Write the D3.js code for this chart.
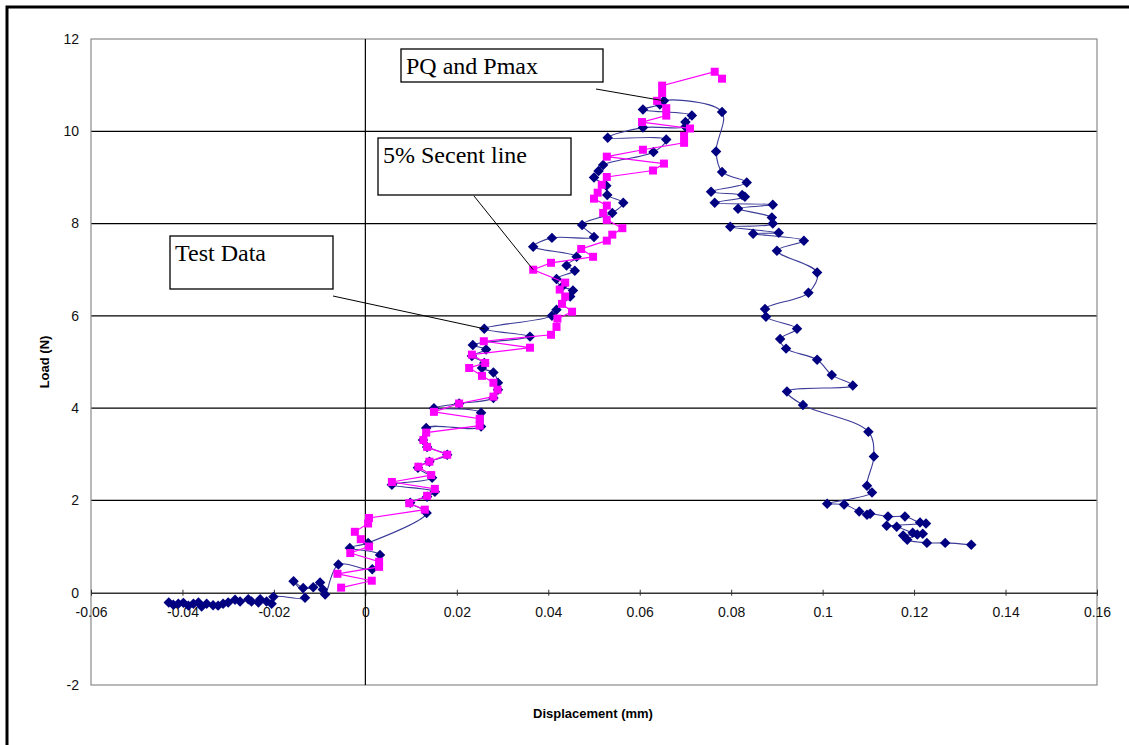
<!DOCTYPE html>
<html>
<head>
<meta charset="utf-8">
<script src="https://cdn.jsdelivr.net/npm/d3@7"></script>
<style>
  body { margin: 0; background: #fff; }
  svg { display: block; }
</style>
</head>
<body>
<svg id="chart" width="1129" height="745"></svg>
<script>
"use strict";

// Test Data (blue diamonds)
const testDisp = [
  -0.0430, -0.0420, -0.0409, -0.0398, -0.0387, -0.0376, -0.0365, -0.0358, -0.0347, -0.0333,
  -0.0322, -0.0311, -0.0300, -0.0285, -0.0274, -0.0256, -0.0249, -0.0234, -0.0230, -0.0216,
  -0.0205, -0.0201, -0.0132, -0.0157, -0.0136, -0.0114, -0.0099, -0.0093, -0.0088, -0.0059,
  0.0015, 0.0032, -0.0034, 0.0006, 0.0134, 0.0098, 0.0135, 0.0152, 0.0058, 0.0146,
  0.0115, 0.0140, 0.0179, 0.0135, 0.0126, 0.0133, 0.0253, 0.0253, 0.0150, 0.0205,
  0.0280, 0.0290, 0.0290, 0.0280, 0.0255, 0.0260, 0.0233, 0.0264, 0.0235, 0.0360,
  0.0260, 0.0408, 0.0418, 0.0448, 0.0454, 0.0430, 0.0418, 0.0458, 0.0440, 0.0462,
  0.0367, 0.0408, 0.0500, 0.0474, 0.0540, 0.0564, 0.0529, 0.0527, 0.0500, 0.0510,
  0.0520, 0.0630, 0.0658, 0.0530, 0.0607, 0.0700, 0.0700, 0.0714, 0.0607, 0.0644,
  0.0653, 0.0780, 0.0767, 0.0780, 0.0834, 0.0756, 0.0824, 0.0830, 0.0764, 0.0891,
  0.0815, 0.0889, 0.0891, 0.0798, 0.0904, 0.0848, 0.0959, 0.0900, 0.0988, 0.0969,
  0.0874, 0.0876, 0.0944, 0.0907, 0.0920, 0.0988, 0.1020, 0.1066, 0.0922, 0.0957,
  0.1100, 0.1112, 0.1097, 0.1108, 0.1010, 0.1047, 0.1080, 0.1097, 0.1104, 0.1143,
  0.1180, 0.1213, 0.1226, 0.1140, 0.1162, 0.1197, 0.1219, 0.1176, 0.1207, 0.1185,
  0.1228, 0.1268, 0.1325
];
const testLoad = [
  -0.21, -0.26, -0.24, -0.22, -0.28, -0.24, -0.21, -0.30, -0.24, -0.27,
  -0.28, -0.24, -0.21, -0.15, -0.19, -0.14, -0.19, -0.21, -0.14, -0.19,
  -0.24, -0.09, -0.11, 0.25, 0.10, 0.12, 0.22, 0.07, -0.04, 0.61,
  0.51, 0.82, 0.97, 1.08, 1.73, 1.95, 2.08, 2.19, 2.34, 2.49,
  2.71, 2.84, 2.99, 3.16, 3.31, 3.57, 3.60, 3.90, 4.00, 4.10,
  4.22, 4.40, 4.55, 4.77, 4.87, 4.98, 5.13, 5.27, 5.37, 5.55,
  5.72, 6.00, 6.13, 6.42, 6.55, 6.63, 6.80, 6.98, 7.09, 7.28,
  7.50, 7.69, 7.71, 7.97, 8.23, 8.45, 8.62, 8.82, 9.00, 9.14,
  9.27, 9.55, 9.82, 9.86, 10.08, 10.10, 10.20, 10.34, 10.47, 10.58,
  10.66, 10.42, 9.56, 9.12, 8.89, 8.69, 8.62, 8.58, 8.45, 8.41,
  8.32, 8.13, 8.00, 7.93, 7.80, 7.78, 7.63, 7.41, 6.94, 6.50,
  6.15, 5.98, 5.72, 5.50, 5.29, 5.05, 4.72, 4.49, 4.36, 4.07,
  3.49, 2.95, 2.32, 2.17, 1.93, 1.91, 1.76, 1.69, 1.71, 1.65,
  1.65, 1.52, 1.50, 1.45, 1.43, 1.30, 1.28, 1.24, 1.26, 1.15,
  1.08, 1.08, 1.04
];

// 5% Secent line (magenta squares)
const secantDisp = [
  -0.0053, 0.0014, -0.0061, 0.0030, 0.0030, -0.0033, 0.0008, -0.0010, -0.0023, 0.0006,
  0.0008, 0.0130, 0.0096, 0.0135, 0.0152, 0.0058, 0.0144, 0.0116, 0.0140, 0.0179,
  0.0135, 0.0127, 0.0133, 0.0250, 0.0250, 0.0150, 0.0205, 0.0280, 0.0289, 0.0280,
  0.0255, 0.0227, 0.0262, 0.0233, 0.0360, 0.0259, 0.0406, 0.0418, 0.0420, 0.0452,
  0.0430, 0.0437, 0.0425, 0.0437, 0.0367, 0.0406, 0.0498, 0.0472, 0.0528, 0.0540,
  0.0562, 0.0528, 0.0520, 0.0528, 0.0500, 0.0508, 0.0517, 0.0528, 0.0629, 0.0653,
  0.0528, 0.0607, 0.0697, 0.0697, 0.0710, 0.0605, 0.0658, 0.0658, 0.0638, 0.0649,
  0.0649, 0.0764, 0.0780
];
const secantLoad = [
  0.11, 0.26, 0.41, 0.56, 0.67, 0.86, 1.00, 1.16, 1.32, 1.50,
  1.62, 1.80, 1.94, 2.10, 2.25, 2.40, 2.55, 2.73, 2.84, 2.99,
  3.16, 3.31, 3.47, 3.62, 3.77, 3.92, 4.10, 4.25, 4.40, 4.55,
  4.70, 4.87, 4.98, 5.16, 5.31, 5.45, 5.59, 5.76, 5.94, 6.09,
  6.26, 6.42, 6.57, 6.72, 7.00, 7.15, 7.28, 7.45, 7.63, 7.76,
  7.90, 8.08, 8.23, 8.39, 8.54, 8.67, 8.84, 9.01, 9.15, 9.30,
  9.45, 9.60, 9.75, 9.90, 10.06, 10.20, 10.34, 10.50, 10.66, 10.83,
  10.99, 11.29, 11.14
];

const xTicks = [-0.06, -0.04, -0.02, 0, 0.02, 0.04, 0.06, 0.08, 0.1, 0.12, 0.14, 0.16];
const yTicks = [-2, 0, 2, 4, 6, 8, 10, 12];
const gridLoads = [2, 4, 6, 8, 10];

const calloutLabels = ["PQ and Pmax", "5% Secent line", "Test Data"];

const svg = d3.select("#chart");

// outer frame
svg.append("rect")
   .attr("x", 7).attr("y", 7)
   .attr("width", 1140).attr("height", 760)
   .attr("fill", "#fff")
   .attr("stroke", "#000")
   .attr("stroke-width", 3);

const plotLeft = 91, plotRight = 1097, plotTop = 39, plotBottom = 685;

const x = d3.scaleLinear().domain([-0.06, 0.16]).range([plotLeft, plotRight]);
const y = d3.scaleLinear().domain([-2, 12]).range([plotBottom, plotTop]);

// horizontal gridlines
svg.append("g")
   .selectAll("line")
   .data(gridLoads)
   .enter()
   .append("line")
   .attr("x1", plotLeft).attr("x2", plotRight)
   .attr("y1", d => y(d)).attr("y2", d => y(d))
   .attr("stroke", "#000")
   .attr("stroke-width", 1.2);

// plot border
svg.append("rect")
   .attr("x", plotLeft).attr("y", plotTop)
   .attr("width", plotRight - plotLeft).attr("height", plotBottom - plotTop)
   .attr("fill", "none")
   .attr("stroke", "#8a8a8a")
   .attr("stroke-width", 1.2);

// x axis sits on load = 0
const xAxis = d3.axisBottom(x)
                .tickValues(xTicks)
                .tickSize(4)
                .tickSizeOuter(0)
                .tickFormat(d => String(+d.toFixed(2)));
const gx = svg.append("g")
              .attr("transform", "translate(0," + y(0) + ")")
              .call(xAxis);
gx.select(".domain").attr("stroke", "#333").attr("stroke-width", 1.5);
gx.selectAll(".tick line").attr("stroke", "#333").attr("y1", -3).attr("y2", 3);
gx.selectAll(".tick text")
  .attr("y", 14)
  .attr("dy", "0.71em")
  .attr("fill", "#111")
  .style("font-family", "Arial, 'Liberation Sans', sans-serif")
  .style("font-size", "14px");

// y axis sits on displacement = 0
svg.append("line")
   .attr("x1", x(0)).attr("x2", x(0))
   .attr("y1", plotTop).attr("y2", plotBottom)
   .attr("stroke", "#000")
   .attr("stroke-width", 1.2);

// y tick labels at the left of the plot
svg.append("g")
   .selectAll("text")
   .data(yTicks)
   .enter()
   .append("text")
   .attr("x", 79)
   .attr("y", d => y(d))
   .attr("dy", "0.35em")
   .attr("text-anchor", "end")
   .attr("fill", "#111")
   .style("font-family", "Arial, 'Liberation Sans', sans-serif")
   .style("font-size", "14px")
   .text(d => d);

// axis titles
svg.append("text")
   .attr("x", 593).attr("y", 718)
   .attr("text-anchor", "middle")
   .style("font-family", "Arial, 'Liberation Sans', sans-serif")
   .style("font-size", "13px")
   .style("font-weight", "bold")
   .text("Displacement (mm)");

svg.append("text")
   .attr("transform", "translate(49," + y(5) + ") rotate(-90)")
   .attr("text-anchor", "middle")
   .style("font-family", "Arial, 'Liberation Sans', sans-serif")
   .style("font-size", "13px")
   .style("font-weight", "bold")
   .text("Load (N)");

// series
const testData = testDisp.map((d, i) => ({ x: d, y: testLoad[i] }));
const secantData = secantDisp.map((d, i) => ({ x: d, y: secantLoad[i] }));

const smoothLine = d3.line()
                     .x(d => x(d.x))
                     .y(d => y(d.y))
                     .curve(d3.curveCatmullRom.alpha(0.5));
const straightLine = d3.line()
                       .x(d => x(d.x))
                       .y(d => y(d.y));

svg.append("path")
   .datum(testData)
   .attr("d", smoothLine)
   .attr("fill", "none")
   .attr("stroke", "#3a3a98")
   .attr("stroke-width", 1.1);

svg.append("g")
   .selectAll("path")
   .data(testData)
   .enter()
   .append("path")
   .attr("transform", d => "translate(" + x(d.x) + "," + y(d.y) + ")")
   .attr("d", d3.symbol().type(d3.symbolDiamond2).size(70))
   .attr("fill", "#000080");

svg.append("path")
   .datum(secantData)
   .attr("d", straightLine)
   .attr("fill", "none")
   .attr("stroke", "#ff00ff")
   .attr("stroke-width", 1.2);

svg.append("g")
   .selectAll("rect")
   .data(secantData)
   .enter()
   .append("rect")
   .attr("x", d => x(d.x) - 4)
   .attr("y", d => y(d.y) - 4)
   .attr("width", 8)
   .attr("height", 8)
   .attr("fill", "#ff00ff");

// callouts
const boxes = [[401, 49, 202, 33], [378, 138, 193, 57], [170, 236, 163, 53]];
const leaderFrom = [[596, 89], [474, 196], [333, 296]];
const leaderTo = [[0.0653, 10.66], [0.0367, 7.0], [0.0260, 5.72]];

boxes.forEach(function(b, i) {
    svg.append("line")
       .attr("x1", leaderFrom[i][0]).attr("y1", leaderFrom[i][1])
       .attr("x2", x(leaderTo[i][0])).attr("y2", y(leaderTo[i][1]))
       .attr("stroke", "#000")
       .attr("stroke-width", 1);
    svg.append("rect")
       .attr("x", b[0]).attr("y", b[1])
       .attr("width", b[2]).attr("height", b[3])
       .attr("fill", "#fff")
       .attr("stroke", "#000")
       .attr("stroke-width", 1.3);
    svg.append("text")
       .attr("x", b[0] + 5).attr("y", b[1] + 25)
       .style("font-family", "'Liberation Serif', 'Times New Roman', serif")
       .style("font-size", "24px")
       .text(calloutLabels[i]);
});
</script>
</body>
</html>
